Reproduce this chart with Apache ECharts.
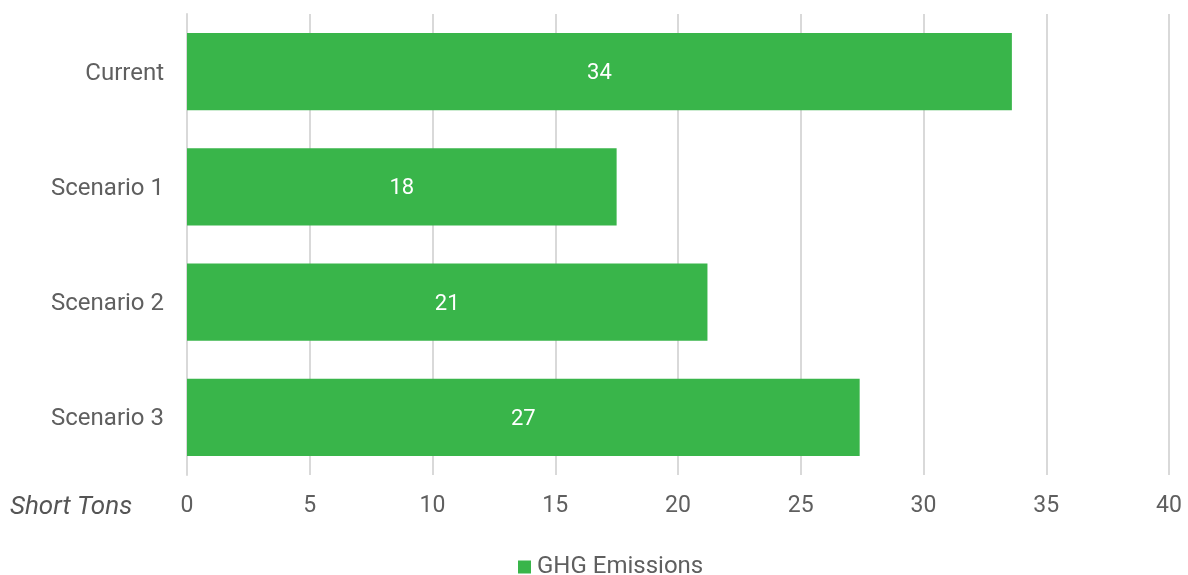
<!DOCTYPE html>
<html><head><meta charset="utf-8">
<script src="https://cdn.jsdelivr.net/npm/echarts@6/dist/echarts.min.js"></script>
<style>html,body{margin:0;padding:0;background:#fff}#c{width:1188px;height:575px}</style>
</head><body><div id="c"></div>
<script>
const categories = ['Current', 'Scenario 1', 'Scenario 2', 'Scenario 3'];
const ghgValues = [33.6, 17.5, 21.2, 27.4];
const xTicks = [0, 5, 10, 15, 20, 25, 30, 35, 40];
const seriesName = 'GHG Emissions';
const axisName = 'Short Tons';

const chart = echarts.init(document.getElementById('c'));
const font = 'Roboto';
chart.setOption({
  animation: false,
  title: {
    text: axisName, left: 5, top: 489,
    textStyle: {fontFamily: font, fontStyle: 'italic', fontWeight: 'normal', fontSize: 26, color: '#555'}
  },
  legend: {
    top: 555, left: 518, padding: 0, itemWidth: 13, itemHeight: 13, icon: 'rect', itemGap: 5,
    textStyle: {fontFamily: font, fontSize: 24, color: '#5f5f5f', padding: [0,0,0,1]},
    data: [seriesName]
  },
  grid: {left: 187, right: 19, top: 14, bottom: 100},
  xAxis: {
    type: 'value', min: xTicks[0], max: xTicks[xTicks.length-1], interval: 5,
    axisLine: {show: false}, axisTick: {show: false},
    splitLine: {lineStyle: {color: '#d9d9d9', width: 2}},
    axisLabel: {fontFamily: font, fontSize: 23, color: '#5f5f5f', margin: 20}
  },
  yAxis: {
    type: 'category', data: categories, inverse: true,
    axisLine: {show: true, lineStyle: {color: '#d9d9d9', width: 2}},
    axisTick: {show: false},
    axisLabel: {margin: 23, formatter: v => '{a|' + v + '}',
      rich: {a: {fontFamily: font, fontSize: 24, color: '#5f5f5f', padding: [4,0,0,0]}}}
  },
  series: [{
    name: seriesName, type: 'bar', data: ghgValues, barCategoryGap: '33%',
    itemStyle: {color: '#39b54a'},
    label: {show: true, position: 'inside', fontFamily: font, fontSize: 22, color: '#fff',
      offset: [0, 2], formatter: p => Math.round(p.value)}
  }]
});
</script></body></html>
